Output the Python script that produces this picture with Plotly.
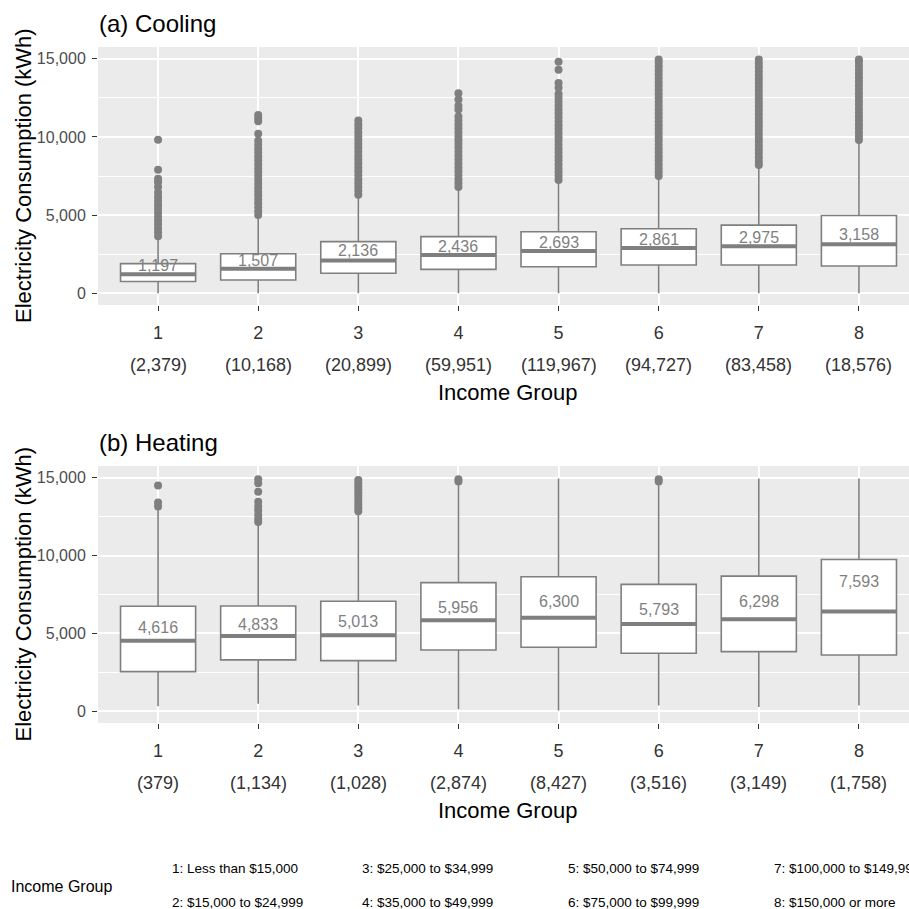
import plotly.graph_objects as go

# ---------------- data ----------------
groups = [1, 2, 3, 4, 5, 6, 7, 8]
group_labels = ["1", "2", "3", "4", "5", "6", "7", "8"]

cool_counts = [2379, 10168, 20899, 59951, 119967, 94727, 83458, 18576]
cool_means = [1197, 1507, 2136, 2436, 2693, 2861, 2975, 3158]
cool_q1 = [750, 850, 1280, 1530, 1700, 1810, 1810, 1745]
cool_median = [1210, 1570, 2100, 2440, 2700, 2890, 3000, 3130]
cool_q3 = [1895, 2530, 3300, 3620, 3935, 4130, 4360, 4975]
cool_lower = [0, 0, 0, 0, 0, 0, 0, 0]
cool_upper = [3500, 4850, 6150, 6650, 7100, 7350, 8050, 9650]

cool_out_1 = [3650, 3900, 4150, 4400, 4650, 4900, 5150, 5400, 5650, 5900, 6150, 6450, 6800, 7100, 7330, 7900, 9820]
cool_out_2 = [5000, 5250, 5500, 5750, 6000, 6250, 6500, 6750, 7000, 7250, 7500, 7750, 8000, 8250, 8500,
              8750, 9000, 9250, 9500, 9750, 10200, 11000, 11200, 11400]
cool_out_3 = [6300, 6550, 6800, 7050, 7300, 7550, 7800, 8050, 8300, 8550, 8800, 9050, 9300, 9550, 9800,
              10050, 10300, 10550, 10800, 11050]
cool_out_4 = [6800, 7050, 7300, 7550, 7800, 8050, 8300, 8550, 8800, 9050, 9300, 9550, 9800, 10050, 10300,
              10550, 10800, 11050, 11300, 11750, 12000, 12400, 12800]
cool_out_5 = [7250, 7500, 7750, 8000, 8250, 8500, 8750, 9000, 9250, 9500, 9750, 10000, 10250, 10500, 10750,
              11000, 11250, 11500, 11750, 12000, 12250, 12500, 12750, 13150, 13450, 14300, 14800]
cool_out_6 = [7500, 7750, 8000, 8250, 8500, 8750, 9000, 9250, 9500, 9750, 10000, 10250, 10500, 10750, 11000,
              11250, 11500, 11750, 12000, 12250, 12500, 12750, 13000, 13250, 13500, 13750, 14000, 14250,
              14500, 14750, 14950]
cool_out_7 = [8200, 8450, 8700, 8950, 9200, 9450, 9700, 9950, 10200, 10450, 10700, 10950, 11200, 11450,
              11700, 11950, 12200, 12450, 12700, 12950, 13200, 13450, 13700, 13950, 14200, 14450, 14700, 14950]
cool_out_8 = [9800, 10050, 10300, 10550, 10800, 11050, 11300, 11550, 11800, 12050, 12300, 12550, 12800,
              13050, 13300, 13550, 13800, 14050, 14300, 14550, 14800, 14950]
cool_outliers = [cool_out_1, cool_out_2, cool_out_3, cool_out_4, cool_out_5, cool_out_6, cool_out_7, cool_out_8]

heat_counts = [379, 1134, 1028, 2874, 8427, 3516, 3149, 1758]
heat_means = [4616, 4833, 5013, 5956, 6300, 5793, 6298, 7593]
heat_q1 = [2550, 3300, 3255, 3935, 4110, 3725, 3830, 3620]
heat_median = [4530, 4830, 4890, 5850, 6000, 5600, 5915, 6410]
heat_q3 = [6750, 6765, 7065, 8260, 8640, 8150, 8680, 9745]
heat_lower = [320, 490, 380, 130, 60, 380, 280, 380]
heat_upper = [12950, 11950, 12700, 14650, 14950, 14650, 14950, 14950]

heat_out_1 = [13150, 13400, 14500]
heat_out_2 = [12150, 12350, 12600, 12900, 13150, 13450, 14100, 14650, 14900]
heat_out_3 = [12850, 13050, 13250, 13450, 13650, 13850, 14050, 14250, 14450, 14650, 14850]
heat_out_4 = [14750, 14900]
heat_out_5 = []
heat_out_6 = [14750, 14900]
heat_out_7 = []
heat_out_8 = []
heat_outliers = [heat_out_1, heat_out_2, heat_out_3, heat_out_4, heat_out_5, heat_out_6, heat_out_7, heat_out_8]

y_ticks = [0, 5000, 10000, 15000]
y_ticktext = ["0", "5,000", "10,000", "15,000"]

legend_items = [
    "1: Less than $15,000", "2: $15,000 to $24,999",
    "3: $25,000 to $34,999", "4: $35,000 to $49,999",
    "5: $50,000 to $74,999", "6: $75,000 to $99,999",
    "7: $100,000 to $149,999", "8: $150,000 or more",
]

# ---------------- style ----------------
W = H = 909
GREY = "#7F7F7F"
FONT = "Liberation Sans, Arial, sans-serif"
BOX_W = 0.75


def px_x(p):
    return p / W


def px_y(p):
    return 1 - p / H


panels = [
    dict(xa="x", ya="y", q1=cool_q1, med=cool_median, q3=cool_q3, lo=cool_lower, up=cool_upper,
         outs=cool_outliers, means=cool_means, counts=cool_counts, top=47, bottom=305,
         title="(a) Cooling", shift=9),
    dict(xa="x2", ya="y2", q1=heat_q1, med=heat_median, q3=heat_q3, lo=heat_lower, up=heat_upper,
         outs=heat_outliers, means=heat_means, counts=heat_counts, top=466, bottom=723,
         title="(b) Heating", shift=11.5),
]

fig = go.Figure()
annotations = []

for p in panels:
    fig.add_trace(go.Box(
        x=groups, q1=p["q1"], median=p["med"], q3=p["q3"],
        lowerfence=p["lo"], upperfence=p["up"],
        width=BOX_W, whiskerwidth=0, boxpoints=False,
        fillcolor="white", line=dict(color=GREY, width=1.6),
        xaxis=p["xa"], yaxis=p["ya"], hoverinfo="skip", showlegend=False,
    ))
    # thicker median line (ggplot style)
    mx, my = [], []
    for g, m in zip(groups, p["med"]):
        mx += [g - BOX_W / 2, g + BOX_W / 2, None]
        my += [m, m, None]
    fig.add_trace(go.Scatter(x=mx, y=my, mode="lines", line=dict(color=GREY, width=4),
                             xaxis=p["xa"], yaxis=p["ya"], hoverinfo="skip", showlegend=False))
    # outliers
    ox, oy = [], []
    for g, vals in zip(groups, p["outs"]):
        ox += [g] * len(vals)
        oy += vals
    fig.add_trace(go.Scatter(x=ox, y=oy, mode="markers",
                             marker=dict(color=GREY, size=8, line=dict(width=0)),
                             xaxis=p["xa"], yaxis=p["ya"], hoverinfo="skip", showlegend=False))
    # mean labels
    for g, m in zip(groups, p["means"]):
        annotations.append(dict(x=g, y=m, xref=p["xa"], yref=p["ya"], text=f"{m:,}",
                                showarrow=False, yshift=p["shift"],
                                font=dict(family=FONT, size=16, color=GREY)))
    # counts under tick labels
    for g, n in zip(groups, p["counts"]):
        annotations.append(dict(x=g, y=px_y(p["bottom"] + 60), xref=p["xa"], yref="paper",
                                text=f"({n:,})", showarrow=False, yanchor="middle",
                                font=dict(family=FONT, size=18, color="#333333")))
    # panel title
    annotations.append(dict(x=px_x(97), y=px_y(p["top"] - 23), xref="paper", yref="paper",
                            text=p["title"], showarrow=False, xanchor="left", yanchor="middle",
                            font=dict(family=FONT, size=24, color="black")))
    # y title
    annotations.append(dict(x=px_x(23), y=px_y((p["top"] + p["bottom"]) / 2), xref="paper", yref="paper",
                            text="Electricity Consumption (kWh)", textangle=-90, showarrow=False,
                            xanchor="center", yanchor="middle",
                            font=dict(family=FONT, size=22, color="black")))
    # x title
    annotations.append(dict(x=px_x(508), y=px_y(p["bottom"] + 87), xref="paper", yref="paper",
                            text="Income Group", showarrow=False, xanchor="center", yanchor="middle",
                            font=dict(family=FONT, size=22, color="black")))

# bottom legend
annotations.append(dict(x=px_x(9), y=px_y(886), xref="paper", yref="paper", text="Income Group",
                        showarrow=False, xanchor="left", yanchor="middle",
                        font=dict(family=FONT, size=16, color="black")))
col_x = [170, 360, 566, 772]
row_y = [868, 902]
for i, txt in enumerate(legend_items):
    annotations.append(dict(x=px_x(col_x[i // 2]), y=px_y(row_y[i % 2]), xref="paper", yref="paper",
                            text=txt, showarrow=False, xanchor="left", yanchor="middle",
                            font=dict(family=FONT, size=13.5, color="black")))

xaxis_common = dict(
    domain=[px_x(98), 1], range=[0.4, 8.5], tickmode="array", tickvals=groups, ticktext=group_labels,
    ticks="outside", ticklen=5, tickwidth=1, tickcolor="#333333",
    tickfont=dict(family=FONT, size=18, color="#333333"), ticklabelstandoff=6,
    showgrid=True, gridcolor="white", gridwidth=1.5, zeroline=False, showline=False,
)
yaxis_common = dict(
    range=[-750, 15750], tickmode="array", tickvals=y_ticks, ticktext=y_ticktext,
    ticks="outside", ticklen=5, tickwidth=1, tickcolor="#333333",
    tickfont=dict(family=FONT, size=16, color="#4D4D4D"), ticklabelstandoff=3,
    showgrid=True, gridcolor="white", gridwidth=1.5, zeroline=False, showline=False,
    minor=dict(tick0=0, dtick=2500, showgrid=True, gridcolor="white", gridwidth=0.7, ticks=""),
)

fig.update_layout(
    width=W, height=H,
    margin=dict(l=0, r=0, t=0, b=0),
    paper_bgcolor="white", plot_bgcolor="#EBEBEB",
    showlegend=False,
    font=dict(family=FONT),
    xaxis=dict(anchor="y", **xaxis_common),
    yaxis=dict(anchor="x", domain=[px_y(305), px_y(47)], **yaxis_common),
    xaxis2=dict(anchor="y2", **xaxis_common),
    yaxis2=dict(anchor="x2", domain=[px_y(723), px_y(466)], **yaxis_common),
    annotations=annotations,
)

# place the figure at the window's top-left corner without scrollbars
fig.write_html(
    "out.html",
    config={"displayModeBar": False},
    post_script="document.body.style.margin='0';document.body.style.overflow='hidden';"
                "document.documentElement.style.overflow='hidden';",
)
